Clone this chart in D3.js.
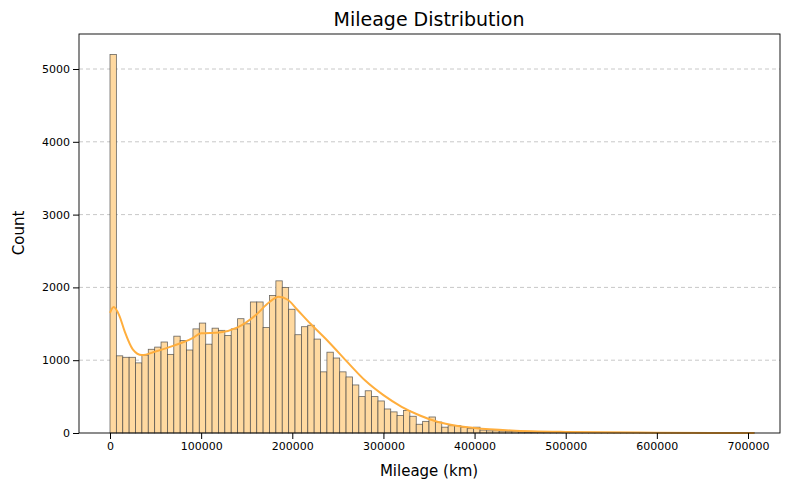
<!DOCTYPE html>
<html><head><meta charset="utf-8">
<script src="https://cdn.jsdelivr.net/npm/d3@7"></script>
<style>body{margin:0;background:#fff;font-family:"DejaVu Sans",sans-serif}</style>
</head><body><svg id="c" width="790" height="490"></svg>
<script>
var binWidth = 7000;
var counts = [5200,1060,1040,1040,963,1070,1150,1180,1250,1080,1330,1270,1140,1430,1510,1220,1440,1410,1340,1430,
  1570,1500,1800,1800,1450,1890,2090,2000,1700,1350,1460,1480,1290,840,1110,1030,840,770,660,500,
  580,500,440,330,290,240,310,230,120,160,220,150,80,100,100,80,60,80,40,30,
  30,25,20,20,15,12,10,10,8,8,6,6,5,5,4,4,3,3,3,2,
  2,2,2,1,1,8,1,1,1,1,1,0,1,0,0,1,0,0,0,1,1];
var kdeX = [0,4000,10000,16000,25000,35000,50000,70000,90000,100000,120000,140000,160000,175000,185000,195000,205000,220000,240000,260000,280000,300000,320000,340000,360000,380000,400000,440000,500000,600000,707000];
var kdeY = [1650,1730,1620,1400,1150,1070,1120,1200,1300,1370,1380,1450,1620,1800,1870,1830,1700,1500,1250,980,720,520,360,240,150,100,70,35,15,5,0];
var xTicks = [0,100000,200000,300000,400000,500000,600000,700000];
var yTicks = [0,1000,2000,3000,4000,5000];

var svg = d3.select('#c');
var m = {l:79, r:780, t:34, b:433};
var x = d3.scale ? null : null;
x = d3.scaleLinear().domain([0,700000]).range([110,748]);
var y = d3.scaleLinear().domain([0,5000]).range([433,69]);

var g = svg.append('g');
g.selectAll('line.grid').data(yTicks.slice(1)).enter().append('line')
  .attr('x1',m.l).attr('x2',m.r).attr('y1',y).attr('y2',y)
  .attr('stroke','#c8c8c8').attr('stroke-dasharray','4,3');

g.selectAll('rect.bar').data(counts).enter().append('rect')
  .attr('x',function(d,i){return x(i*binWidth);})
  .attr('width',function(d,i){return x((i+1)*binWidth)-x(i*binWidth);})
  .attr('y',function(d){return y(d);})
  .attr('height',function(d){return y(0)-y(d);})
  .attr('fill','#ffd9a0').attr('stroke','#444').attr('stroke-opacity',0.8).attr('stroke-width',0.8);

var line = d3.line().x(function(d){return x(d[0]);}).y(function(d){return y(d[1]);}).curve(d3.curveMonotoneX);
g.append('path').datum(kdeX.map(function(v,i){return [v,kdeY[i]];}))
  .attr('d',line).attr('fill','none').attr('stroke','#ffae3d').attr('stroke-width',2);

svg.append('rect').attr('x',m.l).attr('y',m.t).attr('width',m.r-m.l).attr('height',m.b-m.t)
  .attr('fill','none').attr('stroke','#000').attr('stroke-width',0.9);

svg.append('g').attr('transform','translate(0,'+m.b+')')
  .call(d3.axisBottom(x).tickValues(xTicks).tickFormat(d3.format('d')).tickSizeOuter(0))
  .call(function(a){a.select('.domain').remove();a.selectAll('text').attr('font-size',11).attr('fill','#000').attr('font-family','DejaVu Sans');});
svg.append('g').attr('transform','translate('+m.l+',0)')
  .call(d3.axisLeft(y).tickValues(yTicks).tickFormat(d3.format('d')).tickSizeOuter(0))
  .call(function(a){a.select('.domain').remove();a.selectAll('text').attr('font-size',11).attr('fill','#000').attr('font-family','DejaVu Sans');});

svg.append('text').attr('x',429).attr('y',26).attr('text-anchor','middle').attr('font-size',19).text('Mileage Distribution');
svg.append('text').attr('x',429).attr('y',476).attr('text-anchor','middle').attr('font-size',15).text('Mileage (km)');
svg.append('text').attr('transform','translate(24,233) rotate(-90)').attr('text-anchor','middle').attr('font-size',15).text('Count');
</script></body></html>
